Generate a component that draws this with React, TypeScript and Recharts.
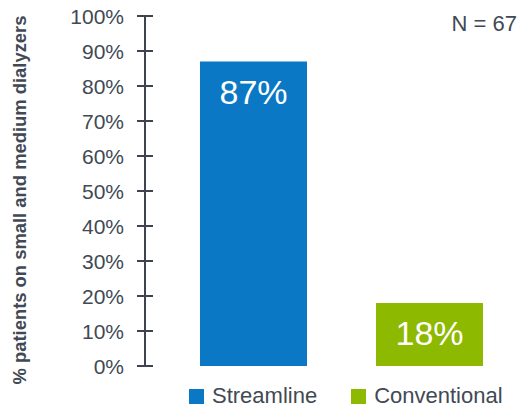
import React from "react";
import { BarChart, Bar, XAxis, YAxis, LabelList } from "recharts";

// values
const categories = ["Streamline", "Conventional"];
const streamlineValues = [87, null];
const conventionalValues = [null, 18];
const yTicks = [0, 10, 20, 30, 40, 50, 60, 70, 80, 90, 100];

const BLUE = "#0a78c4";
const GREEN = "#8db900";
const AXIS = "#3d4450";
const TEXT = "#414954";
const FONT = "'Liberation Sans', Arial, Helvetica, sans-serif";

const data = categories.map((name, i) => ({
    name,
    streamline: streamlineValues[i],
    conventional: conventionalValues[i],
}));

const legendItems = [
    { label: categories[0], color: BLUE },
    { label: categories[1], color: GREEN },
];

// tick line crosses the axis, label sits to the left
const YTick = ({ x, y, payload }: any) => (
    <g>
        <line x1={x - 8} x2={x + 8} y1={y} y2={y} stroke={AXIS} strokeWidth={2} />
        <text
            x={x - 21}
            y={y}
            dy="0.36em"
            textAnchor="end"
            fill={TEXT}
            fontSize={21}
            fontFamily={FONT}
        >
            {`${payload.value}%`}
        </text>
    </g>
);

const barLabel = {
    position: "insideTop" as const,
    offset: 18,
    fill: "#ffffff",
    fontSize: 34,
    fontFamily: FONT,
    formatter: (v: any) => (v == null ? "" : `${v}%`),
};

export default function App() {
    return (
        <div style={{ position: "absolute", left: 0, top: 0, width: 519, height: 409, background: "#fff" }}>
            <BarChart
                width={519}
                height={409}
                data={data}
                margin={{ top: 16, right: 0, bottom: 43, left: 0 }}
                barSize={107}
            >
                <XAxis
                    dataKey="name"
                    tick={false}
                    tickLine={false}
                    height={0}
                    padding={{ left: 20, right: 2 }}
                    axisLine={{ stroke: AXIS, strokeWidth: 2 }}
                />
                <YAxis
                    width={145}
                    domain={[0, 100]}
                    ticks={yTicks}
                    interval={0}
                    tickSize={0}
                    tickMargin={0}
                    tickLine={false}
                    tick={<YTick />}
                    axisLine={{ stroke: AXIS, strokeWidth: 2 }}
                />
                <Bar dataKey="streamline" stackId="a" fill={BLUE} isAnimationActive={false}>
                    <LabelList dataKey="streamline" {...barLabel} />
                </Bar>
                <Bar dataKey="conventional" stackId="a" fill={GREEN} isAnimationActive={false}>
                    <LabelList dataKey="conventional" {...barLabel} />
                </Bar>
            </BarChart>

            <div
                style={{
                    position: "absolute",
                    left: 20,
                    top: 200,
                    transform: "translate(-50%, -50%) rotate(-90deg)",
                    whiteSpace: "nowrap",
                    fontFamily: FONT,
                    fontWeight: "bold",
                    fontSize: 18.4,
                    color: TEXT,
                }}
            >
                % patients on small and medium dialyzers
            </div>

            <div
                style={{
                    position: "absolute",
                    right: 2,
                    top: 11,
                    fontFamily: FONT,
                    fontSize: 22,
                    color: TEXT,
                }}
            >
                N = 67
            </div>

            <div
                style={{
                    position: "absolute",
                    left: 189,
                    top: 383,
                    display: "flex",
                    alignItems: "center",
                    fontFamily: FONT,
                    fontSize: 22,
                    color: TEXT,
                }}
            >
                {legendItems.map((item, i) => (
                    <div key={item.label} style={{ display: "flex", alignItems: "center", marginRight: i === 0 ? 34 : 0 }}>
                        <span style={{ width: 15, height: 15, background: item.color, marginRight: 8, display: "inline-block" }} />
                        <span>{item.label}</span>
                    </div>
                ))}
            </div>
        </div>
    );
}
